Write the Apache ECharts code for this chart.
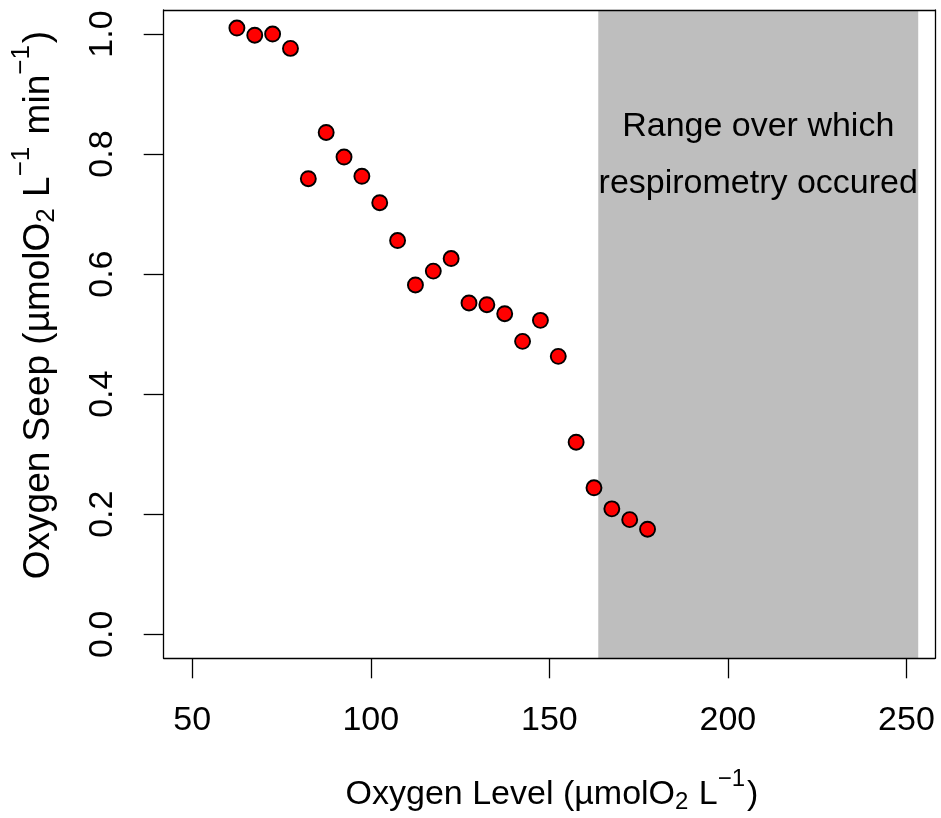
<!DOCTYPE html>
<html><head><meta charset="utf-8">
<script src="https://cdn.jsdelivr.net/npm/echarts@6/dist/echarts.min.js"></script>
<style>html,body{margin:0;padding:0;background:#fff}#c{width:941px;height:818px}</style>
</head><body><div id="c"></div>
<script>
const oxygenLevel = [62.5, 67.5, 72.5, 77.5, 82.5, 87.5, 92.5, 97.5, 102.5, 107.5, 112.5, 117.5,
                     122.5, 127.5, 132.5, 137.5, 142.5, 147.5, 152.5, 157.5, 162.5, 167.5, 172.5, 177.5];
const oxygenSeep = [1.010, 0.998, 1.000, 0.976, 0.759, 0.836, 0.795, 0.763, 0.719, 0.656, 0.582, 0.605,
                    0.626, 0.552, 0.549, 0.534, 0.488, 0.523, 0.463, 0.320, 0.244, 0.209, 0.191, 0.175];
const xTicks = [50, 100, 150, 200, 250];
const yTicks = [0, 0.2, 0.4, 0.6, 0.8, 1.0];
const xRange = [42, 258];
const yRange = [-0.04, 1.04];
const shadeRange = [163.7, 253.3];
const shadeLabel = ['Range over which', 'respirometry occured'];

const FONT = '"Liberation Sans", Arial, Helvetica, sans-serif';
const chart = echarts.init(document.getElementById('c'), null, {renderer: 'canvas'});

const boxLine = {show: true, onZero: false, lineStyle: {color: '#000', width: 1.3}};
function richFor(size) {
  const s = Math.round(size * 0.7);
  return {
    base: {fontSize: size, fontFamily: FONT, color: '#000', lineHeight: size + 10, verticalAlign: 'middle'},
    sub: {fontSize: s, fontFamily: FONT, color: '#000', verticalAlign: 'middle', padding: [Math.round(size * 0.4), 1, 0, 0]},
    sup: {fontSize: s, fontFamily: FONT, color: '#000', verticalAlign: 'middle', padding: [0, 2, Math.round(size * 0.95), 0]}
  };
}

chart.setOption({
  animation: false,
  backgroundColor: '#fff',
  grid: {left: 163.7, top: 10, right: 6, bottom: 159.7, containLabel: false},
  xAxis: [{
    type: 'value', min: xRange[0], max: xRange[1], z: 5,
    axisLine: boxLine,
    axisTick: {show: true, inside: false, length: 20, customValues: xTicks, lineStyle: {color: '#000', width: 1.3}},
    axisLabel: {show: true, customValues: xTicks, margin: 45, fontSize: 34, fontFamily: FONT, color: '#000'},
    splitLine: {show: false}
  }, {
    type: 'value', position: 'top', min: xRange[0], max: xRange[1], z: 5,
    axisLine: boxLine, axisTick: {show: false}, axisLabel: {show: false}, splitLine: {show: false}
  }],
  yAxis: [{
    type: 'value', min: yRange[0], max: yRange[1], z: 5,
    axisLine: boxLine,
    axisTick: {show: true, inside: false, length: 20, customValues: yTicks, lineStyle: {color: '#000', width: 1.3}},
    axisLabel: {show: true, customValues: yTicks, rotate: 90, margin: 44, fontSize: 34, fontFamily: FONT, color: '#000',
                formatter: v => v.toFixed(1)},
    splitLine: {show: false}
  }, {
    type: 'value', position: 'right', min: yRange[0], max: yRange[1], z: 5,
    axisLine: boxLine, axisTick: {show: false}, axisLabel: {show: false}, splitLine: {show: false}
  }],
  series: [{
    type: 'scatter',
    xAxisIndex: 0, yAxisIndex: 0,
    data: oxygenLevel.map((x, i) => [x, oxygenSeep[i]]),
    symbol: 'circle', symbolSize: 15,
    itemStyle: {color: '#FF0000', borderColor: '#000', borderWidth: 1.9, opacity: 1},
    z: 3,
    markArea: {
      silent: true,
      itemStyle: {color: '#BEBEBE', opacity: 1},
      label: {show: true, position: 'insideTop', distance: 88, formatter: shadeLabel.join('\n'),
              fontSize: 34, lineHeight: 57, fontFamily: FONT, color: '#000', align: 'center'},
      data: [[{xAxis: shadeRange[0], yAxis: yRange[0]}, {xAxis: shadeRange[1], yAxis: yRange[1]}]]
    }
  }],
  graphic: [{
    type: 'text', x: 552, y: 795,
    style: {
      x: 0, y: 0, align: 'center', verticalAlign: 'middle',
      text: '{base|Oxygen Level (\u00b5molO}{sub|2}{base| L}{sup|\u22121}{base|)}',
      rich: richFor(34)
    }
  }, {
    type: 'text', x: 39, y: 305, rotation: Math.PI / 2,
    style: {
      x: 0, y: 0, align: 'center', verticalAlign: 'middle',
      text: '{base|Oxygen Seep (\u00b5molO}{sub|2}{base| L}{sup|\u22121}{base| min}{sup|\u22121}{base|)}',
      rich: richFor(37)
    }
  }]
});
</script></body></html>
